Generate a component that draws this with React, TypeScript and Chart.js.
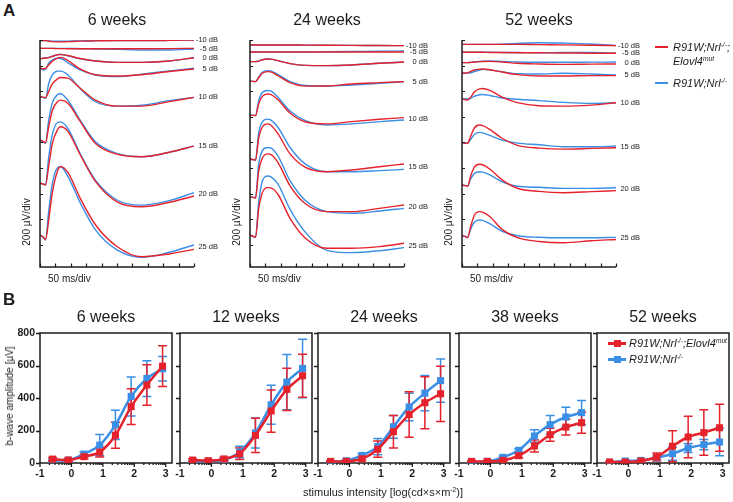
import React, { useEffect, useRef } from 'react';
import { Chart, registerables } from 'chart.js';

Chart.register(...registerables);

const RED = '#e5222b';
const BLUE = '#3a8ee6';
const INK = '#1c1c1c';
const FONT = '"Liberation Sans", Arial, Helvetica, sans-serif';

// ---------------- Panel A: ERG traces ----------------
const INTENSITY_LABELS = ['-10 dB', '-5 dB', '0 dB', '5 dB', '10 dB', '15 dB', '20 dB', '25 dB'];
const TIME_MS = [0, 10, 18, 28, 40, 57, 67, 90, 130, 180, 250, 330, 420, 500];
const TIME_TICKS = [0, 50, 100, 150, 200, 250, 300, 350, 400, 450, 500];
const VOLT_TICKS = [0, 200, 400, 600, 800, 1000, 1200, 1400, 1600];

// trace baselines (µV on the stacked display axis), order = INTENSITY_LABELS
const BASE_6W = [1595, 1535, 1454, 1379, 1157, 819, 481, 78];
const BASE_24W = [1561, 1506, 1431, 1280, 1015, 671, 377, 78];
const BASE_52W = [1566, 1504, 1423, 1340, 1139, 798, 468, 72];

// trace values relative to baseline (µV) at TIME_MS
const RED_6W = [
  [0, 0, 0, -4, -8, -10, -10, -8, -4, -2, 0, 0, 2, 5],
  [0, 0, 0, 0, 0, -2, -2, -3, -3, -3, -3, -3, -2, 0],
  [0, 3, 5, 8, 18, 30, 34, 25, 2, -18, -29, -29, -18, 8],
  [0, -3, 0, 25, 55, 80, 85, 62, -5, -50, -60, -50, -25, -5],
  [0, -3, -8, 40, 100, 140, 150, 145, 68, -26, -73, -73, -38, -5],
  [0, -10, -20, 100, 230, 300, 312, 290, 147, -26, -110, -130, -95, -47],
  [0, -5, -13, 130, 310, 420, 442, 408, 225, 15, -144, -183, -148, -99],
  [0, -15, -34, 110, 330, 500, 535, 490, 290, 80, -90, -170, -148, -112],
];
const BLUE_6W = [
  [0, 0, 0, -2, -4, -5, -5, -4, -2, 0, 0, 0, 2, 5],
  [0, 0, 0, 0, 0, 0, 0, 0, -3, -5, -8, -13, -13, -5],
  [0, 3, 5, 10, 20, 32, 33, 22, 0, -18, -29, -29, -18, 8],
  [0, -13, -8, 40, 65, 78, 77, 45, -13, -52, -65, -45, -20, 0],
  [0, -5, -13, 100, 170, 200, 200, 172, 65, -39, -73, -66, -30, -5],
  [0, -13, -26, 150, 290, 355, 362, 313, 157, -13, -104, -130, -95, -47],
  [0, -5, -13, 200, 380, 475, 480, 430, 235, 25, -130, -170, -135, -73],
  [0, -15, -39, 180, 400, 525, 532, 460, 255, 40, -117, -175, -135, -78],
];
const RED_24W = [
  [0, 0, 0, 0, 0, 0, 0, 0, 0, -1, -2, -3, -4, -5],
  [0, 0, 0, 0, 0, 0, 0, 0, 0, 0, 0, 0, 0, 0],
  [0, 0, 0, 4, 15, 21, 20, 8, -15, -29, -31, -26, -13, -3],
  [0, -3, -5, 25, 60, 73, 71, 42, -13, -40, -39, -23, -13, -5],
  [0, -3, -5, 85, 145, 164, 160, 120, 15, -55, -70, -52, -34, -21],
  [0, -5, -8, 160, 250, 274, 265, 200, 40, -65, -99, -86, -60, -39],
  [0, -5, -10, 200, 300, 334, 330, 270, 85, -55, -117, -117, -91, -65],
  [0, -10, -18, 200, 330, 370, 368, 320, 130, -25, -104, -104, -91, -65],
];
const BLUE_24W = [
  [0, 0, 0, 0, 0, 0, 0, 0, 0, -1, -2, -3, -4, -5],
  [0, 0, 0, 0, 0, 0, 0, 0, 0, 0, 2, 4, 6, 8],
  [0, 0, 0, 4, 15, 21, 20, 8, -15, -29, -31, -26, -13, -3],
  [0, -3, -5, 30, 68, 81, 79, 52, -5, -35, -39, -31, -18, -5],
  [0, -3, -5, 110, 175, 191, 188, 140, 30, -45, -78, -70, -52, -39],
  [0, -5, -8, 200, 290, 311, 305, 250, 90, -40, -99, -99, -91, -81],
  [0, -5, -10, 250, 360, 384, 380, 320, 125, -30, -117, -130, -112, -91],
  [0, -13, -18, 250, 420, 460, 455, 400, 200, 20, -120, -138, -123, -99],
];
const RED_52W = [
  [0, 0, 0, 0, 0, 0, 0, 0, 0, 0, -2, -4, -7, -10],
  [0, 0, 0, 0, 0, 0, 0, -1, -2, -3, -4, -5, -7, -8],
  [0, 0, 0, 2, 5, 8, 9, 10, 5, -5, -10, -13, -11, -10],
  [0, 2, 5, 14, 26, 33, 34, 28, 10, -10, -21, -21, -18, -18],
  [0, -3, -8, 15, 55, 80, 82, 68, 15, -28, -52, -55, -47, -29],
  [0, -3, -5, 50, 115, 138, 134, 105, 35, -20, -42, -50, -44, -39],
  [0, -5, -10, 70, 140, 162, 158, 125, 40, -25, -50, -60, -52, -44],
  [0, -5, -16, 70, 160, 188, 185, 150, 50, -15, -45, -55, -39, -29],
];
const BLUE_52W = [
  [0, 0, 0, 0, 0, 0, 0, 0, 2, 8, 13, 10, 3, -10],
  [0, 0, 0, 0, 0, 0, 0, 0, -1, -2, -4, -2, -2, -8],
  [0, 0, 0, 2, 5, 9, 11, 13, 10, 5, 3, 3, 4, 5],
  [0, 0, 2, 4, 14, 26, 31, 27, 12, -3, -5, 0, -5, -13],
  [0, 0, 0, 5, 22, 34, 36, 28, 8, -2, -12, -26, -34, -29],
  [0, -2, -3, 25, 65, 81, 77, 58, 20, -3, -16, -31, -31, -26],
  [0, -3, -8, 45, 90, 104, 101, 80, 25, -10, -18, -26, -26, -21],
  [0, -5, -13, 50, 105, 123, 120, 95, 35, 0, -12, -16, -16, -13],
];

// ---------------- Panel B: b-wave amplitudes ----------------
const STIMULUS = [-0.6, -0.1, 0.4, 0.9, 1.4, 1.9, 2.4, 2.9];
const X_TICKS = [-1, 0, 1, 2, 3];
const Y_TICKS = [0, 200, 400, 600, 800];
const AGES = ['6 weeks', '12 weeks', '24 weeks', '38 weeks', '52 weeks'];

const MUT_6W = [24, 18, 39, 67, 171, 347, 480, 596];
const MUT_6W_SD = [10, 8, 12, 30, 80, 110, 125, 125];
const CTL_6W = [15, 18, 55, 110, 235, 410, 520, 580];
const CTL_6W_SD = [8, 8, 12, 65, 90, 120, 110, 75];

const MUT_12W = [18, 14, 25, 57, 170, 320, 453, 537];
const MUT_12W_SD = [8, 6, 10, 35, 105, 130, 130, 132];
const CTL_12W = [10, 12, 20, 68, 185, 358, 498, 582];
const CTL_12W_SD = [6, 6, 8, 35, 92, 120, 170, 180];

const MUT_24W = [10, 10, 26, 85, 193, 298, 371, 426];
const MUT_24W_SD = [6, 6, 10, 50, 100, 140, 160, 170];
const CTL_24W = [6, 14, 47, 101, 223, 345, 430, 507];
const CTL_24W_SD = [5, 6, 10, 50, 70, 85, 108, 133];

const MUT_38W = [10, 10, 16, 45, 105, 174, 221, 248];
const MUT_38W_SD = [5, 5, 6, 12, 37, 40, 48, 65];
const CTL_38W = [6, 10, 35, 78, 166, 236, 283, 310];
const CTL_38W_SD = [4, 5, 8, 10, 38, 57, 60, 75];

const MUT_52W = [6, 6, 12, 37, 103, 160, 187, 217];
const MUT_52W_SD = [4, 4, 6, 25, 95, 128, 140, 145];
const CTL_52W = [4, 12, 16, 33, 57, 92, 113, 129];
const CTL_52W_SD = [3, 5, 6, 10, 40, 28, 32, 85];

// ---------------- Components ----------------
type ErgProps = { left: number; baselines: number[]; red: number[][]; blue: number[][] };

function ErgPanel({ left, baselines, red, blue }: ErgProps) {
  const ref = useRef<HTMLCanvasElement | null>(null);
  useEffect(() => {
    const build = (rows: number[][], color: string) =>
      rows.map((row, i) => ({
        data: row.map((v, j) => ({ x: TIME_MS[j], y: baselines[i] + v })),
        borderColor: color,
        borderWidth: 1.4,
        pointRadius: 0,
        cubicInterpolationMode: 'monotone' as const,
        fill: false,
      }));
    const axesPlugin = {
      id: 'ergAxes',
      afterDatasetsDraw(chart: any) {
        const { ctx, chartArea: a, scales } = chart;
        const xs = scales.x, ys = scales.y;
        ctx.save();
        ctx.strokeStyle = INK;
        ctx.lineWidth = 1.5;
        ctx.beginPath();
        ctx.moveTo(a.left, a.top);
        ctx.lineTo(a.left, a.bottom);
        ctx.lineTo(a.right, a.bottom);
        ctx.stroke();
        ctx.lineWidth = 1.2;
        ctx.beginPath();
        VOLT_TICKS.forEach((v) => {
          const y = Math.round(ys.getPixelForValue(v)) + 0.5;
          ctx.moveTo(a.left, y);
          ctx.lineTo(a.left + 3, y);
        });
        TIME_TICKS.forEach((t) => {
          const x = Math.round(xs.getPixelForValue(t)) + 0.5;
          ctx.moveTo(x, a.bottom);
          ctx.lineTo(x, a.bottom - 3.5);
        });
        ctx.stroke();
        ctx.fillStyle = INK;
        ctx.font = `7.5px ${FONT}`;
        ctx.textAlign = 'right';
        ctx.textBaseline = 'middle';
        INTENSITY_LABELS.forEach((lab, i) => {
          const last = TIME_MS.length - 1;
          const v = baselines[i] + (red[i][last] + blue[i][last]) / 2;
          ctx.fillText(lab, a.right + 24, ys.getPixelForValue(v));
        });
        ctx.restore();
      },
    };
    const chart = new Chart(ref.current as HTMLCanvasElement, {
      type: 'line',
      data: { datasets: [...build(red, RED), ...build(blue, BLUE)] as any },
      options: {
        animation: false,
        responsive: false,
        events: [],
        layout: { padding: { left: 40, right: 31, top: 40, bottom: 23 } },
        plugins: { legend: { display: false }, tooltip: { enabled: false } },
        scales: {
          x: { type: 'linear', display: false, min: 0, max: 500 },
          y: { type: 'linear', display: false, min: -172, max: 1600 },
        },
      },
      plugins: [axesPlugin],
    });
    return () => chart.destroy();
  }, []);
  return (
    <canvas
      ref={ref}
      width={225}
      height={290}
      style={{ position: 'absolute', left, top: 0, width: 225, height: 290 }}
    />
  );
}

type AmpProps = {
  left: number;
  mut: number[];
  mutSd: number[];
  ctl: number[];
  ctlSd: number[];
  showY: boolean;
};

function AmpPanel({ left, mut, mutSd, ctl, ctlSd, showY }: AmpProps) {
  const ref = useRef<HTMLCanvasElement | null>(null);
  useEffect(() => {
    const framePlugin = {
      id: 'frame',
      beforeDatasetsDraw(chart: any) {
        const { ctx, chartArea: a, scales } = chart;
        ctx.save();
        ctx.strokeStyle = INK;
        ctx.lineWidth = 1.5;
        ctx.strokeRect(a.left, a.top, a.right - a.left, a.bottom - a.top);
        ctx.lineWidth = 1.3;
        ctx.beginPath();
        Y_TICKS.forEach((v) => {
          const y = Math.round(scales.y.getPixelForValue(v)) + 0.5;
          ctx.moveTo(a.left - 4, y);
          ctx.lineTo(a.left, y);
        });
        for (let d = -1; d <= 3; d++) {
          const x0 = scales.x.getPixelForValue(d);
          ctx.moveTo(x0, a.bottom);
          ctx.lineTo(x0, a.bottom + 4);
          for (let k = 2; k <= 9; k++) {
            const v = d + Math.log10(k);
            if (v > scales.x.max) break;
            const x = scales.x.getPixelForValue(v);
            ctx.moveTo(x, a.bottom);
            ctx.lineTo(x, a.bottom + 2);
          }
        }
        ctx.stroke();
        // error bars
        const ys = scales.y;
        for (let d = chart.data.datasets.length - 1; d >= 0; d--) {
          const ds = chart.data.datasets[d];
          const meta = chart.getDatasetMeta(d);
          ctx.strokeStyle = ds.borderColor;
          ctx.lineWidth = 1.5;
          ctx.beginPath();
          meta.data.forEach((pt: any, i: number) => {
            const v = ds.data[i].y;
            const e = ds.errors[i];
            const top = ys.getPixelForValue(v + e);
            const bot = ys.getPixelForValue(Math.max(0, v - e));
            ctx.moveTo(pt.x, top);
            ctx.lineTo(pt.x, bot);
            ctx.moveTo(pt.x - 4.5, top);
            ctx.lineTo(pt.x + 4.5, top);
            ctx.moveTo(pt.x - 4.5, bot);
            ctx.lineTo(pt.x + 4.5, bot);
          });
          ctx.stroke();
        }
        ctx.restore();
      },
    };
    const series = (vals: number[], sd: number[], color: string) => ({
      data: vals.map((v, i) => ({ x: STIMULUS[i], y: v })),
      errors: sd,
      borderColor: color,
      backgroundColor: color,
      borderWidth: 2.5,
      pointStyle: 'rect',
      pointRadius: 5,
      pointBorderWidth: 0,
      tension: 0.3,
      fill: false,
    });
    const tickFont = { family: FONT, size: 10.5, weight: 'bold' as const };
    const chart = new Chart(ref.current as HTMLCanvasElement, {
      type: 'line',
      data: { datasets: [series(mut, mutSd, RED), series(ctl, ctlSd, BLUE)] as any },
      options: {
        animation: false,
        responsive: false,
        events: [],
        layout: { padding: { left: 0, right: 5, top: 13, bottom: 0 } },
        plugins: { legend: { display: false }, tooltip: { enabled: false } },
        scales: {
          x: {
            type: 'linear',
            min: -1,
            max: 3.2,
            afterBuildTicks: (s: any) => {
              s.ticks = X_TICKS.map((v) => ({ value: v }));
            },
            afterFit: (s: any) => {
              s.height = 22;
            },
            grid: { display: false, drawTicks: false },
            border: { display: false },
            ticks: { padding: 5, font: tickFont, color: INK, maxRotation: 0, autoSkip: false },
          },
          y: {
            type: 'linear',
            min: 0,
            max: 800,
            afterBuildTicks: (s: any) => {
              s.ticks = Y_TICKS.map((v) => ({ value: v }));
            },
            afterFit: (s: any) => {
              s.width = 40;
            },
            grid: { display: false, drawTicks: false },
            border: { display: false },
            ticks: { display: showY, padding: 5, font: tickFont, color: INK },
          },
        },
      } as any,
      plugins: [framePlugin],
    });
    return () => chart.destroy();
  }, []);
  return (
    <canvas
      ref={ref}
      width={177}
      height={165}
      style={{ position: 'absolute', left: left - 40, top: 320, width: 177, height: 165 }}
    />
  );
}

const abs = (extra: React.CSSProperties): React.CSSProperties => ({
  position: 'absolute',
  whiteSpace: 'nowrap',
  ...extra,
});

const Sup = ({ children }: { children: React.ReactNode }) => (
  <span style={{ fontSize: '60%', position: 'relative', top: '-0.55em' }}>{children}</span>
);

export default function App() {
  const ergLefts = [0, 210, 422];
  const ergTitleCenters = [117, 327, 539];
  const ergTitles = ['6 weeks', '24 weeks', '52 weeks'];
  const ampLefts = [40, 180, 318, 459, 597];
  const ampData = [
    [MUT_6W, MUT_6W_SD, CTL_6W, CTL_6W_SD],
    [MUT_12W, MUT_12W_SD, CTL_12W, CTL_12W_SD],
    [MUT_24W, MUT_24W_SD, CTL_24W, CTL_24W_SD],
    [MUT_38W, MUT_38W_SD, CTL_38W, CTL_38W_SD],
    [MUT_52W, MUT_52W_SD, CTL_52W, CTL_52W_SD],
  ];
  return (
    <div
      style={{
        position: 'fixed',
        left: 0,
        top: 0,
        width: 733,
        height: 502,
        overflow: 'hidden',
        background: '#fff',
        fontFamily: FONT,
        color: INK,
      }}
    >
      {/* Panel A */}
      <div style={abs({ left: 3, top: 1, fontSize: 17, fontWeight: 'bold' })}>A</div>
      <ErgPanel left={ergLefts[0]} baselines={BASE_6W} red={RED_6W} blue={BLUE_6W} />
      <ErgPanel left={ergLefts[1]} baselines={BASE_24W} red={RED_24W} blue={BLUE_24W} />
      <ErgPanel left={ergLefts[2]} baselines={BASE_52W} red={RED_52W} blue={BLUE_52W} />
      {ergTitles.map((t, i) => (
        <div
          key={t}
          style={abs({ left: ergTitleCenters[i] - 60, width: 120, top: 10, fontSize: 16, lineHeight: '20px', textAlign: 'center' })}
        >
          {t}
        </div>
      ))}
      {ergLefts.map((l, i) => (
        <React.Fragment key={'u' + i}>
          <div
            style={abs({
              left: l + 27,
              top: 222,
              fontSize: 10,
              lineHeight: '12px',
              transform: 'translate(-50%, -50%) rotate(-90deg)',
            })}
          >
            200 µV/div
          </div>
          <div style={abs({ left: l + 48, top: 273, fontSize: 10, lineHeight: '12px' })}>50 ms/div</div>
        </React.Fragment>
      ))}
      {/* Panel A legend */}
      <div style={abs({ left: 655, top: 46, width: 13, height: 2, background: RED })} />
      <div style={abs({ left: 673, top: 40, fontSize: 11, lineHeight: '14px', fontStyle: 'italic' })}>
        R91W;Nrl<Sup>-/-</Sup>;
      </div>
      <div style={abs({ left: 673, top: 54, fontSize: 11, lineHeight: '14px', fontStyle: 'italic' })}>
        Elovl4<Sup>mut</Sup>
      </div>
      <div style={abs({ left: 655, top: 82, width: 13, height: 2, background: BLUE })} />
      <div style={abs({ left: 673, top: 76, fontSize: 11, lineHeight: '14px', fontStyle: 'italic' })}>
        R91W;Nrl<Sup>-/-</Sup>
      </div>

      {/* Panel B */}
      <div style={abs({ left: 3, top: 290, fontSize: 17, fontWeight: 'bold' })}>B</div>
      {ampData.map((d, i) => (
        <AmpPanel key={i} left={ampLefts[i]} mut={d[0]} mutSd={d[1]} ctl={d[2]} ctlSd={d[3]} showY={i === 0} />
      ))}
      {AGES.map((t, i) => (
        <div
          key={t}
          style={abs({ left: ampLefts[i] + 66 - 60, width: 120, top: 307, fontSize: 16, lineHeight: '20px', textAlign: 'center' })}
        >
          {t}
        </div>
      ))}
      <div
        style={abs({
          left: 10,
          top: 396,
          fontSize: 10,
          lineHeight: '12px',
          transform: 'translate(-50%, -50%) rotate(-90deg)',
        })}
      >
        b-wave amplitude [µV]
      </div>
      <div
        style={abs({ left: 383, top: 493, fontSize: 11, lineHeight: '13px', transform: 'translate(-50%, -50%)' })}
      >
        stimulus intensity [log(cd×s×m<Sup>-2</Sup>)]
      </div>
      {/* Panel B legend */}
      <div style={abs({ left: 608, top: 342, width: 18, height: 2.5, background: RED })} />
      <div style={abs({ left: 614, top: 340, width: 7, height: 7, background: RED })} />
      <div style={abs({ left: 629, top: 336, fontSize: 11, lineHeight: '14px', fontStyle: 'italic' })}>
        R91W;Nrl<Sup>-/-</Sup>;Elovl4<Sup>mut</Sup>
      </div>
      <div style={abs({ left: 608, top: 358, width: 18, height: 2.5, background: BLUE })} />
      <div style={abs({ left: 614, top: 356, width: 7, height: 7, background: BLUE })} />
      <div style={abs({ left: 629, top: 352, fontSize: 11, lineHeight: '14px', fontStyle: 'italic' })}>
        R91W;Nrl<Sup>-/-</Sup>
      </div>
    </div>
  );
}
